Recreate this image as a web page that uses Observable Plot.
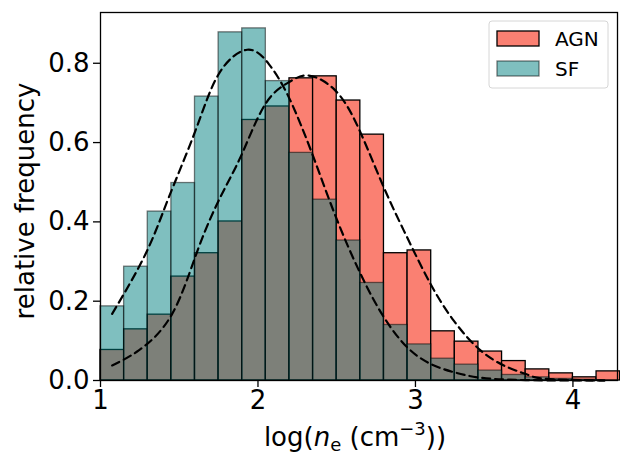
<!DOCTYPE html>
<html>
<head>
<meta charset="utf-8">
<script src="https://cdn.jsdelivr.net/npm/d3@7"></script>
<script src="https://cdn.jsdelivr.net/npm/@observablehq/plot@0.6"></script>
<style>
  body { margin: 0; background: #fff; }
  svg text { font-family: "DejaVu Sans", sans-serif; }
</style>
</head>
<body>
<div id="chart"></div>
<script>
// histogram bins, width 0.15 starting at 1.0
const binStart = 1.0;
const binWidth = 0.15;
const agn = [0.077, 0.129, 0.166, 0.262, 0.321, 0.401, 0.657, 0.691, 0.762, 0.767, 0.706,
  0.620, 0.321, 0.328, 0.124, 0.098, 0.073, 0.049, 0.028, 0.018, 0.008, 0.023];
const sf = [0.187, 0.287, 0.426, 0.498, 0.716, 0.878, 0.888, 0.755, 0.574, 0.456, 0.353,
  0.246, 0.140, 0.091, 0.055, 0.040, 0.025, 0.014, 0.008, 0.004, 0.002, 0.0];

// dashed fit curves
const sfFitX = [1.074, 1.286, 1.434, 1.603, 1.751, 1.931, 2.069, 2.196, 2.344, 2.492, 2.651, 2.799, 2.947, 3.095, 3.243, 3.413, 3.7, 4.2];
const sfFitY = [0.168, 0.319, 0.462, 0.630, 0.773, 0.834, 0.798, 0.714, 0.572, 0.415, 0.269, 0.160, 0.084, 0.042, 0.021, 0.007, 0.001, 0.0];
const agnFitX = [1.074, 1.243, 1.455, 1.624, 1.772, 1.899, 2.048, 2.196, 2.323, 2.492, 2.640, 2.799, 2.947, 3.095, 3.243, 3.413, 3.582, 3.709, 3.836, 4.2];
const agnFitY = [0.038, 0.076, 0.168, 0.336, 0.471, 0.572, 0.698, 0.752, 0.769, 0.731, 0.635, 0.487, 0.361, 0.244, 0.151, 0.076, 0.034, 0.015, 0.004, 0.0];

const xTicks = [1, 2, 3, 4];
const yTicks = [0, 0.2, 0.4, 0.6, 0.8];

const bins = (vals) => vals.map((v, i) => ({
  x1: binStart + i * binWidth, x2: binStart + (i + 1) * binWidth, y: v,
}));
const pts = (xs, ys) => xs.map((x, i) => ({ x, y: ys[i] }));

const plot = Plot.plot({
  width: 620,
  height: 454,
  marginLeft: 100,
  marginRight: 3,
  marginTop: 12,
  marginBottom: 74,
  style: { fontFamily: "DejaVu Sans", color: "#000" },
  x: { domain: [1, 4.283] },
  y: { domain: [0, 0.928] },
  marks: [
    Plot.rectY(bins(agn), { x1: "x1", x2: "x2", y: "y", fill: "salmon", stroke: "black", strokeWidth: 1.3, inset: 0 }),
    Plot.rectY(bins(sf), { x1: "x1", x2: "x2", y: "y", fill: "teal", fillOpacity: 0.5, stroke: "black", strokeOpacity: 0.5, strokeWidth: 1.3, inset: 0 }),
    Plot.line(pts(sfFitX, sfFitY), { x: "x", y: "y", curve: "natural", stroke: "black", strokeWidth: 2.2, strokeDasharray: "8,5" }),
    Plot.line(pts(agnFitX, agnFitY), { x: "x", y: "y", curve: "natural", stroke: "black", strokeWidth: 2.2, strokeDasharray: "8,5" }),
    Plot.axisX(xTicks, { tickFormat: d3.format("d"), label: null, fontSize: 26, tickSize: 7, strokeWidth: 1.3, tickPadding: 3 }),
    Plot.axisY(yTicks, { tickFormat: d3.format(".1f"), label: null, fontSize: 26, tickSize: 7, strokeWidth: 1.3, tickPadding: 4 }),
    Plot.frame({ stroke: "black", strokeWidth: 1.3 }),
  ],
});

document.getElementById("chart").appendChild(plot);

const svg = d3.select(plot);

// axis labels
svg.append("text")
  .attr("transform", "translate(34,201) rotate(-90)")
  .attr("text-anchor", "middle")
  .attr("font-size", 26)
  .text("relative frequency");

const xl = svg.append("text")
  .attr("x", 355).attr("y", 446)
  .attr("text-anchor", "middle")
  .attr("font-size", 26);
xl.append("tspan").text("log(");
xl.append("tspan").attr("font-style", "italic").text("n");
xl.append("tspan").attr("font-size", 18).attr("dy", 5).text("e");
xl.append("tspan").attr("dy", -5).text(" (cm");
xl.append("tspan").attr("font-size", 18).attr("dy", -11).text("\u22123");
xl.append("tspan").attr("dy", 11).text("))");

// legend
const lg = svg.append("g").attr("transform", "translate(489,21)");
lg.append("rect").attr("width", 119).attr("height", 67).attr("rx", 3)
  .attr("fill", "white").attr("fill-opacity", 0.8).attr("stroke", "#d6d6d6");
const items = [["AGN", "salmon", 1, "black"], ["SF", "teal", 0.5, "rgba(0,0,0,0.5)"]];
items.forEach(([name, fill, op, stroke], i) => {
  lg.append("rect").attr("x", 8).attr("y", 10 + i * 30).attr("width", 42).attr("height", 15)
    .attr("fill", fill).attr("fill-opacity", op).attr("stroke", stroke).attr("stroke-width", 1.3);
  lg.append("text").attr("x", 66).attr("y", 25 + i * 30).attr("text-anchor", "start")
    .attr("font-size", 20).text(name);
});
</script>
</body>
</html>
